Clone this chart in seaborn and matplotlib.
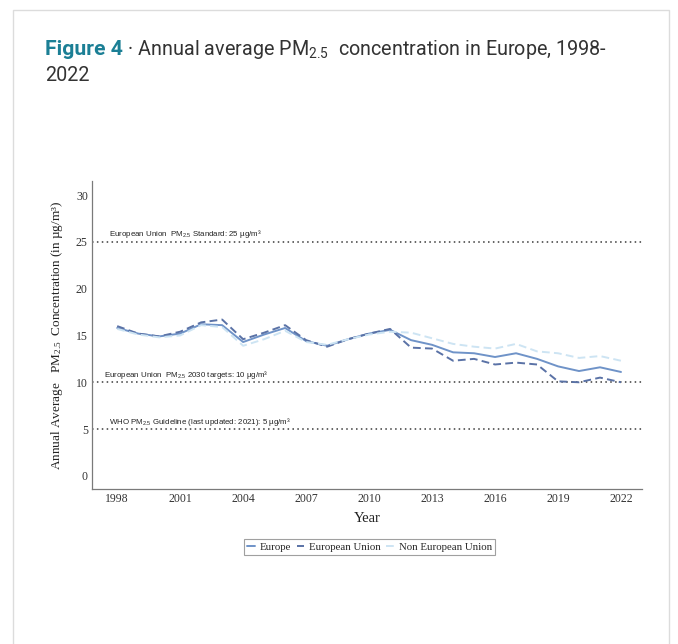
import pandas as pd
import seaborn as sns
import matplotlib.pyplot as plt
from matplotlib.lines import Line2D
from matplotlib.patches import Rectangle

# Annual average PM2.5 concentration (µg/m³)
years = list(range(1998, 2023))
europe = [15.8, 15.2, 14.9, 15.2, 16.2, 16.1, 14.3, 15.1, 15.8, 14.4, 13.9, 14.6, 15.2,
          15.6, 14.5, 14.0, 13.2, 13.1, 12.7, 13.1, 12.5, 11.7, 11.2, 11.6, 11.1]
european_union = [16.0, 15.2, 14.9, 15.4, 16.4, 16.7, 14.6, 15.3, 16.1, 14.5, 13.8, 14.6, 15.2,
                  15.7, 13.7, 13.6, 12.3, 12.5, 11.9, 12.1, 11.9, 10.1, 10.0, 10.5, 10.0]
non_european_union = [15.7, 15.1, 14.8, 15.0, 16.1, 15.9, 13.9, 14.6, 15.5, 14.3, 14.0, 14.6, 15.1,
                      15.4, 15.3, 14.7, 14.1, 13.8, 13.6, 14.1, 13.3, 13.1, 12.6, 12.8, 12.3]
regions = ["Europe", "European Union", "Non European Union"]

# Reference thresholds
thresholds = [25, 10, 5]
threshold_labels = [
    "European Union  PM$_{2.5}$ Standard: 25 µg/m³",
    "European Union  PM$_{2.5}$ 2030 targets: 10 µg/m³",
    "WHO PM$_{2.5}$ Guideline (last updated: 2021): 5 µg/m³",
]
threshold_label_x = [1997.62, 1997.38, 1997.62]

x_ticks = list(range(1998, 2023, 3))
y_ticks = list(range(0, 31, 5))

palette = {"Europe": "#6f93c8", "European Union": "#5a72a6", "Non European Union": "#cde4f3"}
dashes = {"Europe": "", "European Union": (4, 2.2), "Non European Union": (4, 2.2)}

df = pd.DataFrame({
    "Year": years * 3,
    "PM25": europe + european_union + non_european_union,
    "Region": [r for r in regions for _ in years],
})

sns.set_theme(style="white")
plt.rcParams["font.family"] = ["Liberation Serif", "DejaVu Serif"]
plt.rcParams["mathtext.default"] = "regular"

W, H = 678, 644
fig = plt.figure(figsize=(W / 100, H / 100), dpi=100)
fig.patch.set_facecolor("white")

ax_l, ax_r, ax_t, ax_b = 92, 642, 181, 489
ax = fig.add_axes([ax_l / W, 1 - ax_b / H, (ax_r - ax_l) / W, (ax_b - ax_t) / H])

for v, lab, lx in zip(thresholds, threshold_labels, threshold_label_x):
    ax.axhline(v, color="#3a3a3a", lw=1.1, ls=(0, (1, 2.2)), zorder=1)
    ax.text(lx, v + 0.8, lab, fontsize=5.7, family=["Liberation Sans", "DejaVu Sans"],
            color="#222222", va="center", ha="left")

sns.lineplot(data=df, x="Year", y="PM25", hue="Region", style="Region",
             palette=palette, dashes=dashes, linewidth=1.4, ax=ax, legend=False, zorder=3)

ax.set_xlim(1996.8, 2023.0)
ax.set_ylim(-1.4, 31.5)
ax.set_xticks(x_ticks)
ax.set_yticks(y_ticks)
ax.tick_params(axis="both", length=0, labelsize=8.5, colors="#333333", pad=3)
for s in ["top", "right"]:
    ax.spines[s].set_visible(False)
for s in ["left", "bottom"]:
    ax.spines[s].set_color("#7a7a7a")
    ax.spines[s].set_linewidth(0.9)

ax.set_xlabel("Year", fontsize=10.5, color="#222222", labelpad=5)
ax.set_ylabel("Annual Average   PM$_{2.5}$  Concentration (in µg/m³)", fontsize=9.5,
              color="#222222", labelpad=8)

handles = [Line2D([], [], color=palette[r], lw=1.4,
                  ls="-" if dashes[r] == "" else (0, dashes[r])) for r in regions]
leg = fig.legend(handles, regions, loc="center", bbox_to_anchor=(369.5 / W, 1 - 547 / H),
                 ncol=3, frameon=True, fancybox=False, edgecolor="#888888",
                 handlelength=0.7, columnspacing=0.5, handletextpad=0.45, fontsize=7.8,
                 borderpad=0.3, borderaxespad=0)
leg.get_frame().set_linewidth(0.8)

# Title
title_font = ["Roboto", "DejaVu Sans"]
x0, y0 = 45 / W, 1 - 55 / H
t1 = fig.text(x0, y0, "Figure 4", fontsize=15.2, fontweight="bold", color="#1b7f95",
              family=title_font, va="baseline")
fig.canvas.draw()
bb = t1.get_window_extent(fig.canvas.get_renderer())
fig.text(bb.x1 / W, y0, " · Annual average PM$_{2.5}$  concentration in Europe, 1998-",
         fontsize=14.2, fontweight="normal", color="#333333", family=title_font, va="baseline")
fig.text(x0, 1 - 81 / H, "2022", fontsize=14.2, fontweight="normal", color="#333333",
         family=title_font, va="baseline")

# Card border
fig.patches.append(Rectangle((13 / W, -0.02), (669 - 13) / W, 1 - 10 / H + 0.02,
                             transform=fig.transFigure, fill=False,
                             edgecolor="#dcdcdc", lw=1.0))

fig.savefig("out.png", dpi=100, facecolor="white")
